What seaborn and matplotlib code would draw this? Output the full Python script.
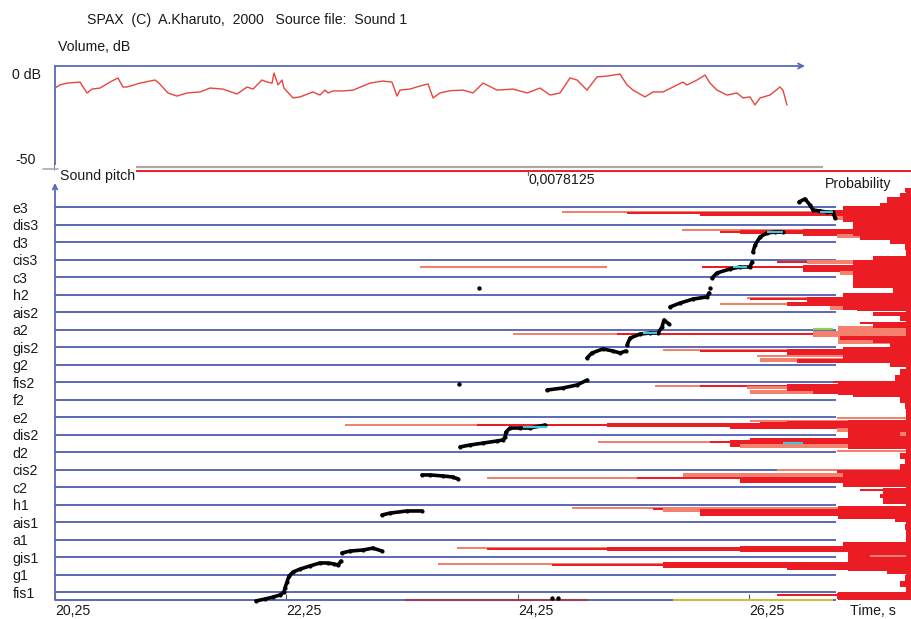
import matplotlib
matplotlib.use("Agg")
import matplotlib.pyplot as plt
import seaborn as sns

sns.set_theme(style="white")
plt.rcParams["font.family"] = ["Liberation Sans", "DejaVu Sans"]

# ---------------------------------------------------------------- data
note_names = ["fis1", "g1", "gis1", "a1", "ais1", "h1", "c2", "cis2", "d2",
              "dis2", "e2", "f2", "fis2", "g2", "gis2", "a2", "ais2", "h2",
              "c3", "cis3", "d3", "dis3", "e3"]
time_ticks = [20.25, 22.25, 24.25, 26.25]
time_tick_labels = ["20,25", "22,25", "24,25", "26,25"]
prob_tick = 0.0078125
prob_tick_label = "0,0078125"

# volume envelope (s, dB)
vol_time = [20.25, 20.293, 20.354, 20.466, 20.526, 20.570, 20.639, 20.725, 20.794, 20.837,
            20.872, 20.984, 21.114, 21.148, 21.226, 21.304, 21.390, 21.503, 21.589, 21.701,
            21.822, 21.909, 21.961, 22.038, 22.082, 22.125, 22.142, 22.177, 22.211, 22.228,
            22.306, 22.367, 22.479, 22.539, 22.583, 22.609, 22.652, 22.738, 22.825, 22.911,
            22.971, 23.084, 23.161, 23.205, 23.231, 23.317, 23.403, 23.473, 23.516, 23.576,
            23.663, 23.775, 23.861, 23.948, 24.069, 24.207, 24.328, 24.440, 24.527, 24.613,
            24.699, 24.760, 24.846, 24.933, 25.019, 25.131, 25.192, 25.244, 25.347, 25.416,
            25.503, 25.589, 25.675, 25.710, 25.797, 25.866, 25.909, 25.969, 26.056, 26.142,
            26.194, 26.254, 26.297, 26.341, 26.427, 26.513, 26.539, 26.574]
vol_db = [-10.7, -9.2, -8.3, -7.8, -13.1, -11.2, -10.7, -7.8, -5.8, -10.2,
          -10.2, -8.3, -6.8, -8.3, -13.1, -14.6, -13.1, -12.6, -10.7, -11.2,
          -13.6, -10.2, -11.2, -6.8, -7.8, -8.3, -3.4, -9.2, -6.8, -10.7,
          -15.5, -15.0, -12.6, -14.1, -11.7, -13.1, -12.1, -12.1, -11.7, -9.7,
          -8.3, -7.3, -7.8, -14.6, -11.7, -11.2, -9.7, -8.7, -15.5, -13.1,
          -12.0, -11.7, -13.1, -8.3, -11.7, -11.2, -13.1, -10.7, -14.1, -13.1,
          -5.8, -6.8, -11.7, -5.3, -4.9, -3.9, -9.2, -11.7, -15.0, -12.6,
          -12.6, -10.2, -7.8, -9.2, -6.8, -4.4, -8.3, -11.7, -14.1, -13.1,
          -15.5, -15.0, -18.9, -15.5, -14.1, -10.2, -11.7, -18.9]

# detected pitch runs (time s, semitones above fis1)
run1_t = [21.987, 22.064, 22.133, 22.194, 22.228, 22.237, 22.254, 22.272, 22.306, 22.367,
          22.453, 22.539, 22.609, 22.660, 22.695, 22.721]
run1_s = [-0.51, -0.40, -0.29, -0.17, 0.0, 0.23, 0.57, 0.91, 1.14, 1.31,
          1.49, 1.66, 1.66, 1.60, 1.54, 1.77]
run2_t = [22.729, 22.799, 22.911, 22.997, 23.075]
run2_s = [2.23, 2.34, 2.40, 2.51, 2.34]
run3_t = [23.075, 23.144, 23.291, 23.421]
run3_s = [4.40, 4.51, 4.63, 4.63]
run4_t = [23.421, 23.490, 23.602, 23.688, 23.732]
run4_s = [6.69, 6.69, 6.63, 6.57, 6.46]
run5_t = [23.749, 23.835, 23.948, 24.069, 24.120, 24.138, 24.146, 24.181, 24.267, 24.354, 24.483]
run5_s = [8.29, 8.40, 8.51, 8.63, 8.69, 8.86, 9.14, 9.37, 9.37, 9.37, 9.54]
run6_t = [24.501, 24.639, 24.760, 24.846]
run6_s = [11.54, 11.66, 11.83, 12.11]
run7_t = [24.846, 24.889, 24.984, 25.071, 25.131, 25.183]
run7_s = [13.37, 13.66, 13.89, 13.77, 13.66, 13.77]
run8_t = [25.192, 25.218, 25.304, 25.390, 25.460, 25.494, 25.511, 25.555]
run8_s = [14.11, 14.51, 14.74, 14.80, 14.80, 15.14, 15.54, 15.31]
run9_t = [25.563, 25.650, 25.762, 25.883, 25.900]
run9_s = [16.29, 16.51, 16.74, 16.86, 17.09]
run10_t = [25.926, 25.969, 26.082, 26.168, 26.254, 26.272]
run10_s = [17.94, 18.23, 18.46, 18.57, 18.57, 18.86]
run11_t = [26.280, 26.298, 26.341, 26.401, 26.470, 26.539]
run11_s = [19.43, 19.83, 20.29, 20.51, 20.57, 20.57]
run12_t = [26.678, 26.729, 26.773, 26.799, 26.859, 26.920, 26.971, 26.989]
run12_s = [22.29, 22.46, 22.11, 21.83, 21.77, 21.71, 21.71, 21.37]
stray_t = [23.740, 23.909, 24.544, 24.596, 25.909]
stray_s = [11.89, 17.37, -0.34, -0.34, 17.37]
# stable (held) stretches
steady_t0 = [24.293, 25.330, 26.107, 26.401, 26.859, 26.539]
steady_t1 = [24.501, 25.451, 26.228, 26.539, 26.971, 26.712]
steady_s = [9.43, 14.80, 18.57, 20.57, 21.71, 8.51]

# pitch probability histogram: position (semitones), probability, tone, bar height
bar_pitch = [22.97, 22.69, 22.40, 22.11, 21.89,
             21.71, 21.66, 21.60, 21.60, 21.37, 21.26, 21.09, 20.91,
             20.69, 20.57, 20.57, 20.57, 20.34, 20.23, 20.00, 19.71, 19.43,
             19.09, 18.86, 18.86, 18.57, 18.51, 18.23, 18.11, 17.83, 17.54, 17.26,
             16.80, 16.74, 16.63, 16.46, 16.46, 16.23, 16.17, 15.89, 15.66, 15.37, 15.20,
             14.74, 14.74, 14.74, 14.74, 14.51, 14.34, 14.11,
             13.83, 13.77, 13.71, 13.49, 13.26, 13.20, 12.97, 12.57, 12.23, 12.00,
             11.77, 11.77, 11.71, 11.66, 11.43, 11.43, 11.26, 10.97, 10.63, 10.23,
             9.94, 9.77, 9.71, 9.54, 9.54, 9.54, 9.49, 9.49, 9.26, 9.26, 9.03,
             8.74, 8.57, 8.57, 8.51, 8.34, 8.29, 8.06, 7.77, 7.43, 7.14,
             6.97, 6.91, 6.69, 6.51, 6.51, 6.40, 6.17, 5.83, 5.49, 5.14,
             4.80, 4.74, 4.69, 4.57, 4.34, 4.11, 3.71, 3.37,
             2.74, 2.51, 2.46, 2.46, 2.46, 2.46, 2.23, 2.06, 1.77,
             1.60, 1.54, 1.54, 1.37, 1.14, 0.80, 0.46,
             -0.17, -0.23,
             22.30, 21.60, 20.75, 18.20, 16.60, 14.70, 13.55, 11.60, 9.00, 6.50,
             5.50, 4.55, 2.00, -0.22, 11.30]
bar_prob = [0.00014, 0.00024, 0.00035, 0.00065, 0.00112,
            0.00712, 0.00580, 0.00431, 0.00161, 0.00153, 0.00085, 0.00065, 0.00045,
            0.00468, 0.00391, 0.00350, 0.00222, 0.00153, 0.00106, 0.00045, 0.00014, 0.00010,
            0.00079, 0.00275, 0.00214, 0.00427, 0.00222, 0.00146, 0.00085, 0.00079, 0.00035, 0.00039,
            0.00336, 0.00330, 0.00214, 0.00391, 0.00254, 0.00167, 0.00112, 0.00079, 0.00024, 0.00106, 0.00079,
            0.00812, 0.00600, 0.00513, 0.00201, 0.00146, 0.00079, 0.00045,
            0.00507, 0.00431, 0.00254, 0.00315, 0.00309, 0.00234, 0.00045, 0.00024, 0.00035, 0.00161,
            0.00523, 0.00431, 0.00336, 0.00254, 0.00330, 0.00201, 0.00120, 0.00024, 0.00014, 0.00010,
            0.00153, 0.00330, 0.00254, 0.01154, 0.00885, 0.00621, 0.00370, 0.00309, 0.00153, 0.00120, 0.00024,
            0.00330, 0.00639, 0.00411, 0.00370, 0.00350, 0.00120, 0.00153, 0.00024, 0.00014, 0.00024,
            0.00275, 0.00153, 0.00466, 0.00865, 0.00559, 0.00350, 0.00140, 0.00106, 0.00065, 0.00051,
            0.00692, 0.00527, 0.00507, 0.00431, 0.00065, 0.00035, 0.00014, 0.00010,
            0.00140, 0.00926, 0.00865, 0.00621, 0.00466, 0.00350, 0.00120, 0.00085, 0.00024,
            0.00964, 0.00732, 0.00507, 0.00254, 0.00051, 0.00014, 0.00024,
            0.00275, 0.00153,
            0.00050, 0.00140, 0.00120, 0.00120, 0.00140, 0.00150, 0.00140, 0.00150, 0.00130, 0.00140,
            0.00060, 0.00150, 0.00130, 0.00150, 0.00012]
bar_tone = ["r", "r", "r", "r", "r",
            "s", "r", "r", "r", "s", "r", "r", "r",
            "s", "r", "r", "r", "s", "r", "r", "r", "r",
            "r", "r", "s", "r", "r", "s", "r", "r", "r", "r",
            "s", "r", "r", "s", "r", "s", "r", "r", "r", "r", "r",
            "s", "r", "r", "s", "r", "r", "r",
            "s", "r", "r", "s", "s", "r", "r", "r", "r", "r",
            "s", "r", "s", "r", "s", "r", "r", "r", "r", "r",
            "s", "s", "r", "s", "r", "r", "r", "r", "s", "r", "s",
            "r", "s", "r", "r", "s", "r", "s", "r", "r", "r",
            "s", "r", "s", "s", "r", "r", "r", "r", "r", "r",
            "s", "r", "s", "r", "r", "r", "r", "r",
            "r", "s", "r", "r", "r", "r", "r", "s", "r",
            "s", "r", "r", "r", "r", "r", "r",
            "r", "r",
            "r", "r", "r", "r", "r", "s", "r", "r", "r", "r",
            "r", "r", "r", "r", "r"]
bar_height = [.25, .25, .25, .25, .2,
              .1, .1, .18, .5, .2, .2, .2, .2,
              .1, .1, .18, .4, .2, .2, .25, .3, .3,
              .2, .1, .2, .1, .4, .2, .2, .2, .3, .3,
              .1, .1, .4, .1, .18, .2, .2, .2, .3, .15, .2,
              .1, .1, .15, .35, .2, .2, .25,
              .1, .1, .35, .12, .18, .2, .25, .3, .3, .12,
              .1, .1, .18, .4, .18, .2, .2, .3, .3, .3,
              .12, .12, .12, .1, .1, .18, .3, .4, .2, .2, .25,
              .12, .1, .1, .4, .18, .2, .12, .3, .3, .3,
              .12, .18, .18, .1, .1, .35, .2, .15, .25, .25,
              .1, .1, .18, .4, .2, .25, .3, .3,
              .2, .1, .1, .18, .25, .35, .2, .15, .25,
              .1, .1, .35, .2, .25, .3, .3,
              .12, .3,
              .6, .9, .8, 1.6, 1.0, 1.0, .9, .7, 1.7, 1.0,
              .9, .7, 1.6, .45, 23.4]
# detached histogram strokes: pitch, probability start, probability end, colour
loose_pitch = [18.57, -0.457, -0.457, 15.03]
loose_p0 = [0.01001, 0.010315, 0.004862, 0.002014]
loose_p1 = [0.00621, 0.006592, 0.001607, 0.001607]
loose_color = ["#f2806f", "#9b3a5a", "#c8c040", "#90d050"]

# ---------------------------------------------------------------- style
W, H = 912, 619
BLUE = "#5a68b8"
RED = "#ec1c24"
SALMON = "#f4806e"
VOL_RED = "#e8453c"
CYAN = "#3ec6dc"
TXT = "#1a1a1a"
FS = 10.2

T_VIEW = (20.25, 27.654)    # time span across the plotting width
T_GRID_END = 27.0           # note lines stop here
P_VIEW = (0.017436, 0.0)    # probability grows leftwards from the right edge
S_VIEW = (-0.457, 24.4)


def fx(px):
    return px / W


def fy(py):
    return 1 - py / H


fig = plt.figure(figsize=(W / 100, H / 100), dpi=100)

# ---------------------------------------------------------------- volume panel
ax_vol = fig.add_axes([fx(55), fy(169), fx(912) - fx(55), fy(66) - fy(169)])
ax_vol.set_xlim(*T_VIEW)
ax_vol.set_ylim(-50, 0)
ax_vol.axis("off")
sns.lineplot(x=vol_time, y=vol_db, ax=ax_vol, color=VOL_RED, lw=1.0,
             sort=False, estimator=None)
ax_vol.annotate("", xy=(26.73, 0), xytext=(T_VIEW[0], 0),
                arrowprops=dict(arrowstyle="->", color=BLUE, lw=1.3,
                                mutation_scale=9, shrinkA=0, shrinkB=0),
                annotation_clip=False)
ax_vol.plot([T_VIEW[0], T_VIEW[0]], [0, -50.5], color=BLUE, lw=1.3, clip_on=False)

# ---------------------------------------------------------------- pitch panel
rect = [fx(55), fy(600), fx(912) - fx(55), fy(165) - fy(600)]
ax = fig.add_axes(rect)
ax.set_xlim(*T_VIEW)
ax.set_ylim(*S_VIEW)
for sp in ax.spines.values():
    sp.set_visible(False)
ax.grid(False)

ax.hlines(range(len(note_names)), T_VIEW[0], T_GRID_END, color=BLUE, lw=1.4, zorder=1)
ax.hlines(S_VIEW[0], T_VIEW[0], T_GRID_END, color=BLUE, lw=1.4, clip_on=False, zorder=1)
ax.annotate("", xy=(T_VIEW[0], 23.37), xytext=(T_VIEW[0], S_VIEW[0]),
            arrowprops=dict(arrowstyle="->", color=BLUE, lw=1.3,
                            mutation_scale=8, shrinkA=0, shrinkB=0),
            annotation_clip=False)

ax.set_yticks(range(len(note_names)))
ax.set_yticklabels(note_names)
ax.tick_params(axis="y", length=0, pad=30.5, labelsize=FS, labelcolor=TXT)
for lab in ax.get_yticklabels():
    lab.set_horizontalalignment("left")

ax.set_xticks(time_ticks)
ax.set_xticklabels(time_tick_labels)
ax.tick_params(axis="x", direction="in", length=4, width=0.8, color="#555555",
               pad=3, labelsize=FS, labelcolor=TXT, bottom=True)
for lab in ax.get_xticklabels():
    lab.set_horizontalalignment("left")

# probability histogram on a mirrored scale
axp = ax.twiny()
axp.set_xlim(*P_VIEW)
axp.axis("off")
order = sorted(range(len(bar_prob)), key=lambda i: -bar_prob[i])
for i in order:
    axp.barh(bar_pitch[i], bar_prob[i], left=0, height=bar_height[i],
             color=RED if bar_tone[i] == "r" else SALMON, linewidth=0)
for yv, p0, p1, c in zip(loose_pitch, loose_p0, loose_p1, loose_color):
    axp.hlines(yv, p0, p1, color=c, lw=1.5, clip_on=False)
axp.hlines(24.27, 0.015788, 0.001811, color="#a8a8a8", lw=1.6, clip_on=False)
axp.hlines(24.04, 0.015788, 0.0, color=RED, lw=1.4, clip_on=False)
axp.plot([prob_tick, prob_tick], [24.04, 23.85], color="#666666", lw=0.9)
axp.text(prob_tick, 23.55, prob_tick_label, ha="left", va="center",
         fontsize=FS, color=TXT)

# pitch track on top
ax_top = fig.add_axes(rect, sharex=ax, sharey=ax)
ax_top.axis("off")
ax_top.patch.set_visible(False)
runs = [(run1_t, run1_s), (run2_t, run2_s), (run3_t, run3_s), (run4_t, run4_s),
        (run5_t, run5_s), (run6_t, run6_s), (run7_t, run7_s), (run8_t, run8_s),
        (run9_t, run9_s), (run10_t, run10_s), (run11_t, run11_s), (run12_t, run12_s)]
for rt, rs in runs:
    sns.lineplot(x=rt, y=rs, ax=ax_top, color="black", lw=2.6, marker="o",
                 markersize=3.0, markeredgewidth=0, sort=False, estimator=None,
                 clip_on=False)
sns.scatterplot(x=stray_t, y=stray_s, ax=ax_top, color="black", s=10,
                linewidth=0, clip_on=False)
ax_top.hlines(steady_s, steady_t0, steady_t1, color=CYAN, lw=1.6)

ax.set_zorder(1)
axp.set_zorder(2)
ax_top.set_zorder(3)
axp.patch.set_visible(False)

# ---------------------------------------------------------------- captions
fig.text(fx(87), fy(20), "SPAX  (C)  A.Kharuto,  2000   Source file:  Sound 1",
         ha="left", va="center", fontsize=FS, color=TXT)
fig.text(fx(58), fy(47), "Volume, dB", ha="left", va="center", fontsize=FS, color=TXT)
fig.text(fx(12), fy(75), "0 dB", ha="left", va="center", fontsize=FS, color=TXT)
fig.text(fx(15), fy(160), "-50", ha="left", va="center", fontsize=FS, color=TXT)
fig.text(fx(60), fy(176), "Sound pitch", ha="left", va="center", fontsize=FS, color=TXT)
fig.text(fx(825), fy(184), "Probability", ha="left", va="center", fontsize=FS, color=TXT)
fig.text(fx(850), fy(611), "Time, s", ha="left", va="center", fontsize=FS, color=TXT)
fig.add_artist(plt.Line2D([fx(43), fx(58)], [fy(169), fy(169)], color="#a8a8a8", lw=1.2))

fig.savefig("out.png", dpi=100)
